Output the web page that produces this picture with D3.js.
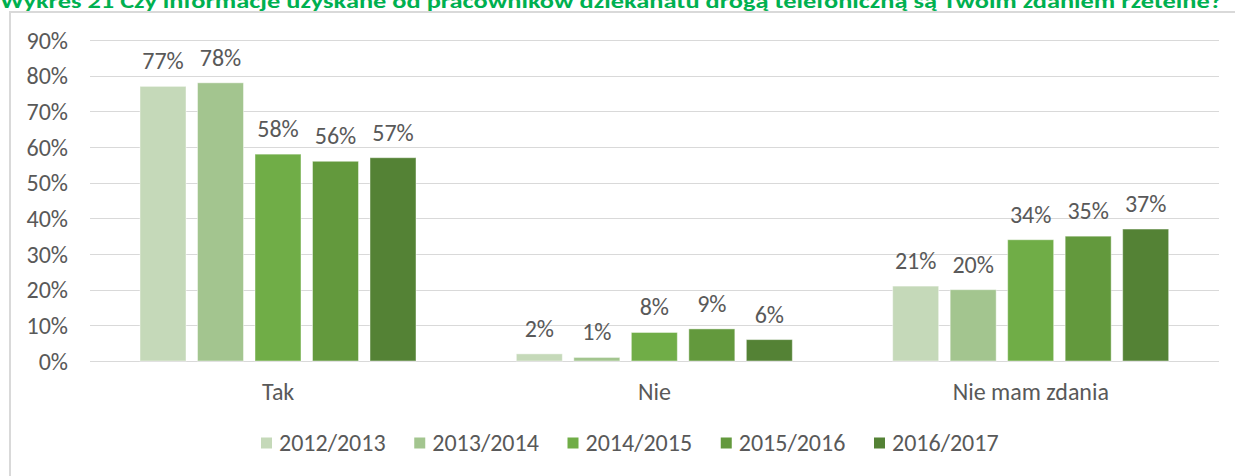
<!DOCTYPE html>
<html>
<head>
<meta charset="utf-8">
<script src="https://cdn.jsdelivr.net/npm/d3@7"></script>
<style>
  html, body { margin: 0; padding: 0; background: #fff; }
  svg { display: block; }
  text { font-family: Carlito, Calibri, "Open Sans", sans-serif; }
</style>
</head>
<body>
<svg id="chart" width="1235" height="476"></svg>
<script>
const title = "Wykres 21 Czy informacje uzyskane od pracowników dziekanatu drogą telefoniczną są Twoim zdaniem rzetelne?";
const categories = ["Tak", "Nie", "Nie mam zdania"];
const series = ["2012/2013", "2013/2014", "2014/2015", "2015/2016", "2016/2017"];
const values2012 = [77, 2, 21];
const values2013 = [78, 1, 20];
const values2014 = [58, 8, 34];
const values2015 = [56, 9, 35];
const values2016 = [57, 6, 37];
const yTicks = [0, 10, 20, 30, 40, 50, 60, 70, 80, 90];
const colors = ["#c5d9b9", "#a3c58f", "#70ad47", "#63993d", "#548235"];

const seriesValues = [values2012, values2013, values2014, values2015, values2016];
const rows = [];
series.forEach((s, i) => categories.forEach((c, j) => rows.push({ series: s, cat: c, value: seriesValues[i][j] })));

const svg = d3.select("#chart");
const textColor = "#595959";
const fs = "24px";

// title (clipped at top, as in the reference)
svg.append("text")
  .attr("x", 0).attr("y", 7.5)
  .attr("textLength", 1222).attr("lengthAdjust", "spacingAndGlyphs")
  .style("font-size", "20px").style("font-weight", "bold")
  .attr("fill", "#00b050")
  .text(title);

// chart frame
svg.append("rect")
  .attr("x", 10).attr("y", 12).attr("width", 1240).attr("height", 480)
  .attr("fill", "none").attr("stroke", "#d9d9d9").attr("stroke-width", 2);

const x = d3.scaleBand().domain(categories).range([90, 1219]);
const xSub = d3.scaleBand().domain(series).range([50, 326]).paddingInner(0.2);
const y = d3.scaleLinear().domain([0, 90]).range([361, 40]);
const color = d3.scaleOrdinal().domain(series).range(colors);

// gridlines
svg.append("g").selectAll("line").data(yTicks).join("line")
  .attr("x1", 90).attr("x2", 1219)
  .attr("y1", d => Math.round(y(d)) + 0.5).attr("y2", d => Math.round(y(d)) + 0.5)
  .attr("stroke", "#d9d9d9").attr("stroke-width", 1);

// y axis labels
const yAxis = d3.axisLeft(y).tickValues(yTicks).tickFormat(d => d + "%").tickSize(0).tickPadding(0);
const yg = svg.append("g").attr("transform", "translate(68,0)").call(yAxis);
yg.select(".domain").remove();
yg.selectAll("text").attr("fill", textColor).style("font-size", fs).attr("dy", "0.34em");

// bars
svg.append("g").selectAll("rect").data(rows).join("rect")
  .attr("x", d => x(d.cat) + xSub(d.series))
  .attr("width", xSub.bandwidth())
  .attr("y", d => y(d.value))
  .attr("height", d => y(0) - y(d.value))
  .attr("fill", d => color(d.series))
  .attr("stroke", "rgba(255,255,255,0.45)").attr("stroke-width", 1);

// data labels
svg.append("g").selectAll("text").data(rows).join("text")
  .attr("x", d => x(d.cat) + xSub(d.series) + xSub.bandwidth() / 2)
  .attr("y", d => y(d.value) - 17)
  .attr("text-anchor", "middle")
  .attr("fill", textColor).style("font-size", fs)
  .text(d => d.value + "%");

// category axis labels
const xAxis = d3.axisBottom(x).tickSize(0).tickPadding(0);
const xg = svg.append("g").attr("transform", "translate(0,400)").call(xAxis);
xg.select(".domain").remove();
xg.selectAll("text").attr("fill", textColor).style("font-size", fs).attr("dy", "0");

// legend
const lx = d3.scaleBand().domain(series).range([261, 261 + 5 * 153.25]);
const lg = svg.append("g").selectAll("g").data(series).join("g")
  .attr("transform", d => `translate(${lx(d)},443)`);
lg.append("rect").attr("x", 0).attr("y", -5.5).attr("width", 11).attr("height", 11)
  .attr("fill", d => color(d));
lg.append("text").attr("x", 18).attr("y", 0).attr("dy", "0.35em")
  .attr("fill", textColor).style("font-size", fs)
  .text(d => d);
</script>
</body>
</html>
